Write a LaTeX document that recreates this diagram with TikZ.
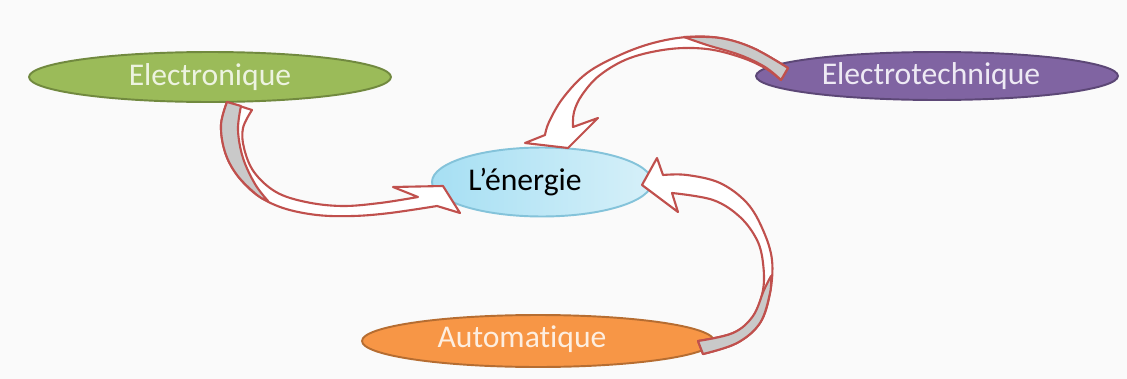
\documentclass[tikz,border=0pt]{standalone}
\usepackage{fontspec}
\setmainfont{Carlito}[Ligatures=NoCommon]
\usetikzlibrary{shapes.geometric}
\definecolor{bgpaper}{HTML}{FAFAFA}
\definecolor{greenfill}{HTML}{9BBB59}
\definecolor{greenline}{HTML}{71893F}
\definecolor{greentext}{HTML}{EDF3E0}
\definecolor{purplefill}{HTML}{8064A2}
\definecolor{purpleline}{HTML}{5C4776}
\definecolor{purpletext}{HTML}{EEEAF4}
\definecolor{orangefill}{HTML}{F79646}
\definecolor{orangeline}{HTML}{B66D31}
\definecolor{orangetext}{HTML}{FDEEE0}
\definecolor{bluelight}{HTML}{D6F0F9}
\definecolor{bluedeep}{HTML}{A6DFF3}
\definecolor{blueline}{HTML}{84C3DA}
\definecolor{arrowred}{HTML}{C0504D}
\definecolor{backside}{HTML}{C9C9C9}
\tikzset{
  topic/.style={ellipse, inner sep=0pt, line width=1.1pt},
  lbl/.style={inner sep=0pt, font=\fontsize{18}{21}\selectfont},
  blockarrow/.style={fill=white, draw=arrowred, line width=1.2pt, line join=round},
  underside/.style={fill=backside, draw=arrowred, line width=1.2pt, line join=round},
}
\begin{document}
\begin{tikzpicture}[x=0.02cm, y=-0.02cm]
  % paper
  \fill[bgpaper] (0,0) rectangle (1127,379);
  \useasboundingbox (0,0) rectangle (1127,379);

  % topics
  \node[topic, fill=greenfill, draw=greenline, minimum width=7.24cm, minimum height=1.0cm] (elec) at (210,77) {};
  \node[topic, fill=purplefill, draw=purpleline, minimum width=7.24cm, minimum height=0.96cm] (etech) at (937,76) {};
  \node[topic, left color=bluedeep, right color=bluelight, draw=blueline, minimum width=4.4cm, minimum height=1.38cm] (nrj) at (542,182) {};
  \node[topic, fill=orangefill, draw=orangeline, minimum width=7.04cm, minimum height=1.04cm] (auto) at (538,341) {};

  \node[lbl, text=greentext] (elect) at (elec.center) {Electronique};
  \node[lbl, text=purpletext] (etecht) at ([xshift=-0.12cm]etech.center) {Electrotechnique};
  \node[lbl, text=black] (nrjt) at ([xshift=-0.34cm]nrj.center) {L’énergie};
  \node[lbl, text=orangetext] (autot) at ([xshift=-0.32cm, yshift=0.04cm]auto.center) {Automatique};

  % curved arrow: Electronique -> L'energie
  \path[blockarrow] (227,102)
    -- plot[smooth, tension=0.6] coordinates {(227,102) (221,125) (225,152) (237,175) (257,195) (283,208) (317,215) (353,216) (390,213) (437,206)}
    -- (460,213) -- (443,186) -- (393,187) -- (418,197)
    -- plot[smooth, tension=0.6] coordinates {(418,197) (380,203) (342,206) (306,202) (276,192) (254,172) (244,148) (243,128) (252,110)}
    -- cycle;
  \path[underside] (227,102)
    -- plot[smooth, tension=0.6] coordinates {(227,102) (221,125) (225,152) (237,175) (257,195) (268,201)}
    -- plot[smooth, tension=0.6] coordinates {(268,201) (255,184) (243,158) (238,130) (241,106)}
    -- cycle;

  % curved arrow: Electrotechnique -> L'energie
  \path[blockarrow] (788,68)
    -- plot[smooth, tension=0.6] coordinates {(788,68) (753,48) (720,38) (687,37) (653,43) (620,55) (587,73) (563,98) (549,122) (545,135)}
    -- (525,143) -- (568,148) -- (598,118) -- (573,127)
    -- plot[smooth, tension=0.6] coordinates {(573,127) (574,112) (582,95) (600,75) (630,58) (670,49) (707,49) (740,57) (765,68) (781,80)}
    -- cycle;
  \path[underside] (788,68)
    -- plot[smooth, tension=0.6] coordinates {(788,68) (753,48) (720,38) (684,37)}
    -- plot[smooth, tension=0.6] coordinates {(684,37) (707,45) (740,55) (765,67) (781,80)}
    -- cycle;

  % curved arrow: Automatique -> L'energie
  \path[blockarrow] (703,354)
    -- plot[smooth, tension=0.6] coordinates {(703,354) (737,343) (760,323) (770,293) (772,260) (763,230) (747,203) (720,183) (687,175) (663,175)}
    -- (657,158) -- (642,185) -- (678,212) -- (672,193)
    -- plot[smooth, tension=0.6] coordinates {(672,193) (713,200) (740,217) (757,240) (763,263) (763,290) (753,317) (733,333) (698,341)}
    -- cycle;
  \path[underside] (703,354)
    -- plot[smooth, tension=0.6] coordinates {(703,354) (737,343) (760,323) (770,293) (771,276)}
    -- plot[smooth, tension=0.6] coordinates {(771,276) (764,290) (753,316) (733,333) (698,341)}
    -- cycle;
\end{tikzpicture}
\end{document}
